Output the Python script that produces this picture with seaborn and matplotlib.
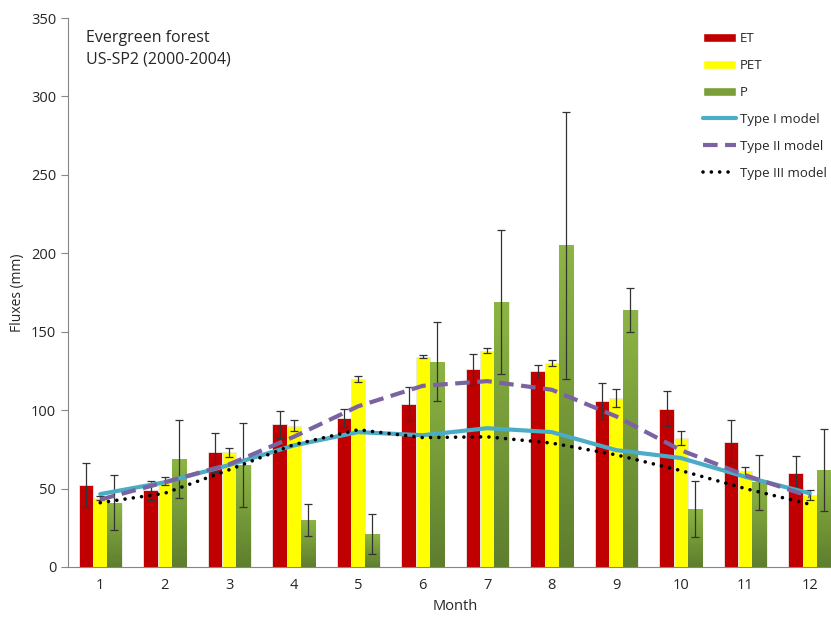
import numpy as np
import pandas as pd
import matplotlib
matplotlib.use('Agg')
import matplotlib.pyplot as plt
from matplotlib.patches import Patch
from matplotlib.lines import Line2D
from matplotlib.colors import LinearSegmentedColormap
import seaborn as sns

# data
months = ['1', '2', '3', '4', '5', '6', '7', '8', '9', '10', '11', '12']
et = [52, 49, 73, 91, 95, 104, 126, 125, 106, 101, 80, 60]
et_err = [14, 6, 12.5, 8.5, 6, 11, 10, 4, 11.5, 11, 13.5, 10.5]
pet = [44, 55, 73, 90, 120, 134, 138, 130, 108, 82, 61, 46]
pet_err = [1, 2.5, 3, 3.5, 2, 1, 1.5, 2, 5.7, 4.5, 3, 3]
p = [41, 69, 65, 30, 21, 131, 169, 205, 164, 37, 54, 62]
p_err = [17.5, 25, 27, 10, 12.5, 25, 46, 85, 14, 17.7, 17.7, 26]
type1 = [46.5, 54, 65, 77.5, 86, 84, 88.5, 86, 74.5, 69.5, 57.5, 47]
type2 = [43, 54, 65.5, 83, 102.5, 115.5, 118.5, 113, 96, 74.5, 58.5, 45]
type3 = [41, 47, 62, 78, 87.5, 82.5, 83, 79, 71.5, 61.5, 50, 40]

series = ['ET', 'PET', 'P']
bar_colors = {'ET': '#C00000', 'PET': '#FFFF00', 'P': '#7A9E38'}

df = pd.DataFrame({
    'Month': months * 3,
    'Flux': et + pet + p,
    'err': et_err + pet_err + p_err,
    'var': ['ET'] * 12 + ['PET'] * 12 + ['P'] * 12,
})

sns.set_style('white')
plt.rcParams['font.family'] = ['Open Sans', 'DejaVu Sans']

fig = plt.figure(figsize=(8.31, 6.17), dpi=100)
ax = fig.add_axes([68 / 831, 1 - 567 / 617, 774 / 831, 549 / 617])

sns.barplot(data=df, x='Month', y='Flux', hue='var', hue_order=series,
            palette=bar_colors, saturation=1, width=0.66, edgecolor='#E8E8E8',
            linewidth=0.6, legend=False, ax=ax)

# error bars at the centres of the drawn bars
n = len(months)
for k, s in enumerate(series):
    sub = df[df['var'] == s]
    bars = ax.patches[k * n:(k + 1) * n]
    xs = [b.get_x() + b.get_width() / 2 for b in bars]
    ax.errorbar(xs, sub['Flux'], yerr=sub['err'], fmt='none', ecolor='#333333',
                elinewidth=0.9, capsize=3, capthick=0.9, zorder=3)

# gradient on the P bars
green = LinearSegmentedColormap.from_list('g', ['#5E7E2E', '#8DB543'])
grad = np.linspace(0, 1, 100).reshape(-1, 1)
for b in ax.patches[2 * n:3 * n]:
    x0, w, h = b.get_x(), b.get_width(), b.get_height()
    im = ax.imshow(grad, cmap=green, origin='lower', aspect='auto',
                   extent=[x0, x0 + w, 0, h], zorder=b.get_zorder())
    im.set_clip_path(b)
    b.set_facecolor('none')

pos = np.arange(n)
sns.lineplot(x=pos, y=type1, color='#4BACC6', lw=3, ax=ax, zorder=4)
sns.lineplot(x=pos, y=type2, color='#7B62A0', lw=3, ax=ax, zorder=4,
             dashes=False, linestyle=(0, (3.5, 1.8)))
sns.lineplot(x=pos, y=type3, color='black', lw=2.6, ax=ax, zorder=5,
             linestyle=(0, (0.01, 2.3)), dash_capstyle='round')

ax.set_xlim(-0.5, n - 0.5)
ax.set_ylim(0, 350)
ax.set_yticks(range(0, 351, 50))
ax.set_xticks(np.arange(-0.5, n, 1), minor=True)
ax.tick_params(axis='x', which='major', length=0, labelsize=10.5, pad=8)
ax.tick_params(axis='x', which='minor', length=5, color='#868686', direction='out')
ax.tick_params(axis='y', length=5, color='#868686', direction='out', labelsize=10.5, left=True)
for side in ['top', 'right']:
    ax.spines[side].set_visible(False)
for side in ['left', 'bottom']:
    ax.spines[side].set_color('#868686')
ax.set_xlabel('Month', fontsize=10.5, labelpad=4)
ax.set_ylabel('Fluxes (mm)', fontsize=10, labelpad=4)

fig.text(86 / 831, 1 - 38 / 617, 'Evergreen forest', fontsize=11.5, va='center')
fig.text(86 / 831, 1 - 59 / 617, 'US-SP2 (2000-2004)', fontsize=11.5, va='center')

handles = [
    Patch(facecolor='#C00000', label='ET'),
    Patch(facecolor='#FFFF00', label='PET'),
    Patch(facecolor='#7A9E38', label='P'),
    Line2D([], [], color='#4BACC6', lw=3, label='Type I model'),
    Line2D([], [], color='#7B62A0', lw=3, linestyle=(0, (3.5, 1.8)), label='Type II model'),
    Line2D([], [], color='black', lw=2.6, linestyle=(0, (0.01, 2.3)),
           dash_capstyle='round', label='Type III model'),
]
fig.legend(handles=handles, loc='upper left', bbox_to_anchor=(698 / 831, 1 - 27 / 617),
           frameon=False, fontsize=9.5, handlelength=2.5, handleheight=0.65,
           labelspacing=1.05, handletextpad=0.25, borderaxespad=0)

fig.savefig('out.png', dpi=100)
